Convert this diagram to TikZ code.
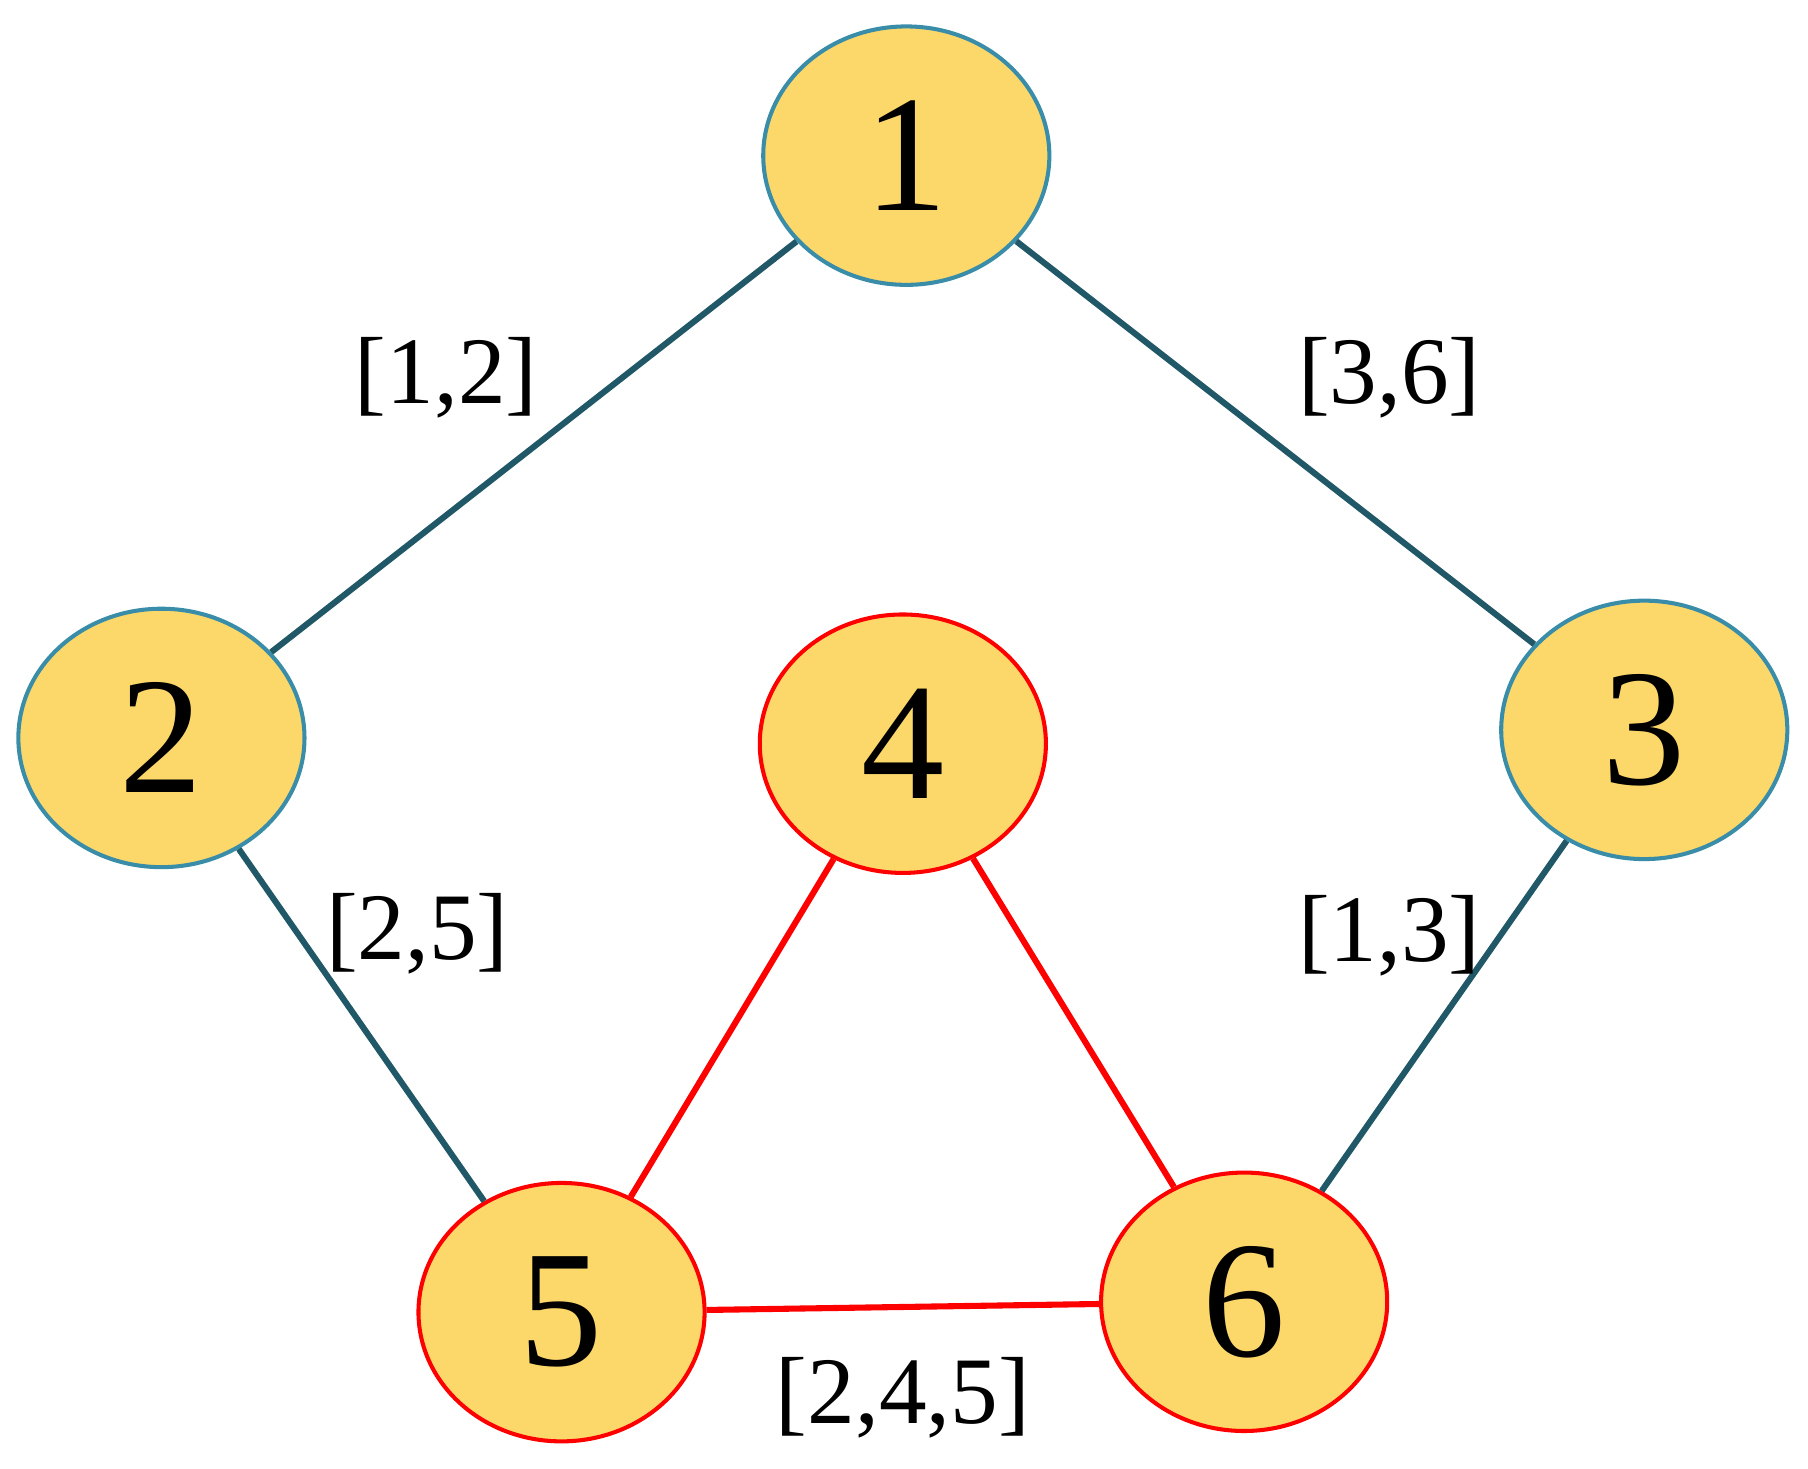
\documentclass[tikz,border=0pt]{standalone}
\usepackage{fontspec}
\setmainfont{Liberation Serif}
\usetikzlibrary{shapes.geometric}
\definecolor{nfill}{HTML}{FCD86A}
\definecolor{bblue}{HTML}{3A8DA8}
\definecolor{eteal}{HTML}{215868}
\begin{document}
\begin{tikzpicture}[x=0.01cm,y=-0.01cm,
 nd/.style={ellipse,fill=nfill,draw,line width=1pt,minimum width=2.48cm,minimum height=2.24cm,inner sep=0pt,font=\fontsize{41}{41}\selectfont},
 bn/.style={nd,draw=bblue},
 rn/.style={nd,draw=red},
 be/.style={draw=eteal,line width=1.5pt},
 re/.style={draw=red,line width=1.5pt},
 lb/.style={font=\fontsize{23.5}{24}\selectfont}]
\useasboundingbox (0,0) rectangle (1568,1274);
\node[bn] (n1) at (786,135) {1};
\node[bn] (n2) at (140,640) {2};
\node[bn] (n3) at (1426,633) {3};
\node[rn] (n4) at (783,645) {4};
\node[rn] (n5) at (487,1138) {5};
\node[rn] (n6) at (1079,1129) {6};
\draw[be] (n1) -- (n2);
\draw[be] (n1) -- (n3);
\draw[be] (n2) -- (n5);
\draw[be] (n3) -- (n6);
\draw[re] (n4) -- (n5);
\draw[re] (n4) -- (n6);
\draw[re] (n5) -- (n6);
\node[lb] (l1) at (387,328) {[1,2]};
\node[lb] (l2) at (1205,328) {[3,6]};
\node[lb] (l3) at (362,810) {[2,5]};
\node[lb] (l4) at (1205,812) {[1,3]};
\node[lb] (l5) at (783,1212) {[2,4,5]};
\end{tikzpicture}
\end{document}
